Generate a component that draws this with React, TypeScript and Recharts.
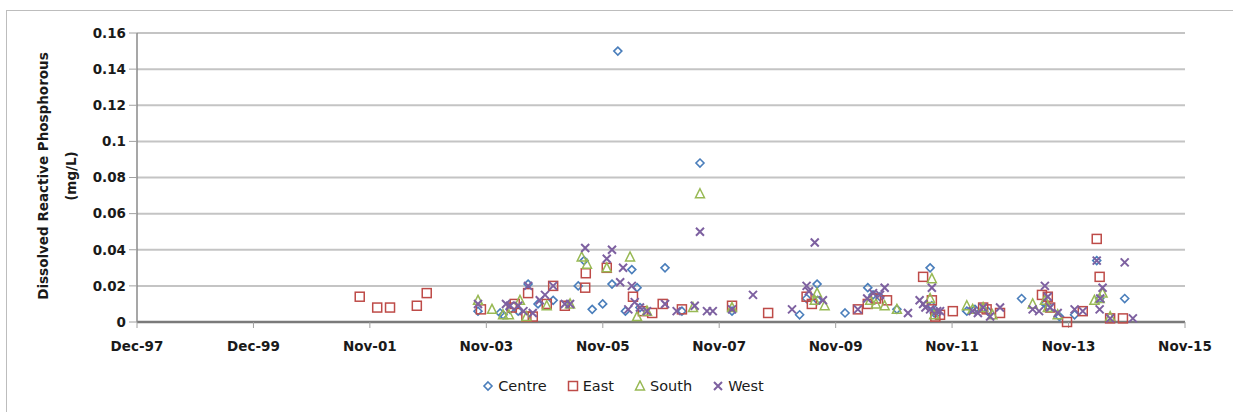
import { CartesianGrid, Scatter, ScatterChart, XAxis, YAxis } from 'recharts';

// x = decimal year, y = mg/L
const X_TICKS = [1997.917, 1999.916, 2001.914, 2003.913, 2005.912, 2007.91, 2009.909, 2011.907, 2013.906, 2015.905];
const X_LABELS = ['Dec-97', 'Dec-99', 'Nov-01', 'Nov-03', 'Nov-05', 'Nov-07', 'Nov-09', 'Nov-11', 'Nov-13', 'Nov-15'];
const Y_TICKS = [0, 0.02, 0.04, 0.06, 0.08, 0.1, 0.12, 0.14, 0.16];

const CENTRE: [number, number][] = [
  [2003.77, 0.006], [2004.15, 0.005], [2004.2, 0.004], [2004.32, 0.007], [2004.46, 0.006],
  [2004.63, 0.021], [2004.8, 0.01], [2005.06, 0.012], [2005.49, 0.02], [2005.59, 0.034],
  [2005.73, 0.007], [2005.91, 0.01], [2006.07, 0.021], [2006.17, 0.15], [2006.3, 0.006],
  [2006.41, 0.029], [2006.5, 0.019], [2006.55, 0.008], [2006.98, 0.03], [2007.27, 0.006],
  [2007.58, 0.088], [2008.13, 0.006], [2009.29, 0.004], [2009.41, 0.013], [2009.59, 0.021],
  [2009.6, 0.012], [2010.07, 0.005], [2010.46, 0.019], [2010.55, 0.015], [2010.67, 0.014],
  [2010.96, 0.007], [2011.53, 0.03], [2011.56, 0.009], [2011.6, 0.005], [2011.65, 0.005],
  [2012.16, 0.006], [2012.3, 0.007], [2012.52, 0.006], [2013.1, 0.013], [2013.5, 0.01],
  [2013.55, 0.009], [2013.75, 0.003], [2014.01, 0.004], [2014.39, 0.034], [2014.44, 0.013],
  [2014.87, 0.013],
];

const EAST: [number, number][] = [
  [2001.74, 0.014], [2002.04, 0.008], [2002.26, 0.008], [2002.72, 0.009], [2002.89, 0.016],
  [2003.82, 0.007], [2004.35, 0.008], [2004.4, 0.01], [2004.6, 0.003], [2004.63, 0.016],
  [2004.71, 0.003], [2004.95, 0.01], [2005.06, 0.02], [2005.26, 0.009], [2005.61, 0.019],
  [2005.62, 0.027], [2005.98, 0.03], [2006.43, 0.014], [2006.6, 0.006], [2006.76, 0.005],
  [2006.94, 0.01], [2007.27, 0.007], [2008.13, 0.009], [2008.75, 0.005], [2009.41, 0.014],
  [2009.5, 0.01], [2010.29, 0.007], [2010.46, 0.01], [2010.6, 0.013], [2010.79, 0.012],
  [2011.41, 0.025], [2011.56, 0.012], [2011.62, 0.003], [2011.7, 0.004], [2011.92, 0.006],
  [2012.44, 0.008], [2012.5, 0.007], [2012.73, 0.005], [2013.45, 0.015], [2013.55, 0.014],
  [2013.59, 0.008], [2013.88, 0.0], [2014.15, 0.006], [2014.39, 0.046], [2014.44, 0.025],
  [2014.62, 0.002], [2014.84, 0.002],
];

const SOUTH: [number, number][] = [
  [2003.77, 0.012], [2004.01, 0.007], [2004.2, 0.004], [2004.3, 0.004], [2004.49, 0.012],
  [2004.6, 0.003], [2004.95, 0.009], [2005.35, 0.01], [2005.55, 0.036], [2005.64, 0.032],
  [2005.98, 0.03], [2006.38, 0.036], [2006.5, 0.003], [2006.67, 0.006], [2007.46, 0.008],
  [2007.58, 0.071], [2008.13, 0.008], [2009.55, 0.012], [2009.59, 0.016], [2009.72, 0.009],
  [2010.5, 0.012], [2010.6, 0.01], [2010.75, 0.009], [2010.96, 0.007], [2011.53, 0.013],
  [2011.56, 0.024], [2011.6, 0.004], [2012.16, 0.009], [2012.26, 0.007], [2012.44, 0.008],
  [2012.6, 0.004], [2013.29, 0.01], [2013.5, 0.012], [2013.55, 0.008], [2013.72, 0.004],
  [2014.35, 0.012], [2014.44, 0.013], [2014.49, 0.016], [2014.62, 0.003],
];

const WEST: [number, number][] = [
  [2003.77, 0.01], [2004.25, 0.01], [2004.32, 0.009], [2004.46, 0.009], [2004.55, 0.006],
  [2004.63, 0.02], [2004.71, 0.005], [2004.83, 0.012], [2004.92, 0.015], [2005.06, 0.02],
  [2005.26, 0.01], [2005.35, 0.01], [2005.61, 0.041], [2005.98, 0.035], [2006.07, 0.04],
  [2006.21, 0.022], [2006.26, 0.03], [2006.35, 0.007], [2006.41, 0.02], [2006.46, 0.011],
  [2006.55, 0.008], [2006.67, 0.006], [2006.98, 0.01], [2007.18, 0.006], [2007.49, 0.009],
  [2007.58, 0.05], [2007.7, 0.006], [2007.8, 0.006], [2008.13, 0.007], [2008.49, 0.015],
  [2009.16, 0.007], [2009.41, 0.02], [2009.45, 0.017], [2009.55, 0.044], [2009.69, 0.012],
  [2010.29, 0.007], [2010.45, 0.013], [2010.55, 0.016], [2010.67, 0.015], [2010.75, 0.019],
  [2011.15, 0.005], [2011.35, 0.012], [2011.41, 0.01], [2011.45, 0.008], [2011.53, 0.007],
  [2011.56, 0.019], [2011.65, 0.006], [2011.7, 0.006], [2012.26, 0.006], [2012.35, 0.005],
  [2012.44, 0.008], [2012.56, 0.003], [2012.73, 0.008], [2013.29, 0.007], [2013.4, 0.006],
  [2013.5, 0.02], [2013.55, 0.014], [2013.59, 0.008], [2013.72, 0.005], [2014.01, 0.007],
  [2014.15, 0.006], [2014.39, 0.034], [2014.44, 0.007], [2014.45, 0.013], [2014.49, 0.019],
  [2014.62, 0.002], [2014.87, 0.033], [2015.01, 0.002],
];

const BLUE = '#4a7ebb';
const RED = '#be4b48';
const GREEN = '#98b954';
const PURPLE = '#7d60a0';
const FONT = '"DejaVu Sans", sans-serif';

const toPoints = (rows: [number, number][]) => rows.map(([x, y]) => ({ x, y }));

const Diamond = ({ cx, cy }: any) => (
  <path d={`M${cx},${cy - 4} L${cx + 4},${cy} L${cx},${cy + 4} L${cx - 4},${cy} Z`} fill="none" stroke={BLUE} strokeWidth={1.6} />
);
const Square = ({ cx, cy }: any) => (
  <rect x={cx - 4.5} y={cy - 4.5} width={9} height={9} fill="none" stroke={RED} strokeWidth={1.5} />
);
const Triangle = ({ cx, cy }: any) => (
  <path d={`M${cx},${cy - 5} L${cx + 4.5},${cy + 4} L${cx - 4.5},${cy + 4} Z`} fill="none" stroke={GREEN} strokeWidth={1.5} />
);
const Cross = ({ cx, cy }: any) => (
  <path d={`M${cx - 4},${cy - 4} L${cx + 4},${cy + 4} M${cx + 4},${cy - 4} L${cx - 4},${cy + 4}`} stroke={PURPLE} strokeWidth={2} />
);

const LEGEND = [
  { name: 'Centre', Shape: Diamond },
  { name: 'East', Shape: Square },
  { name: 'South', Shape: Triangle },
  { name: 'West', Shape: Cross },
];

export default function App() {
  return (
    <div style={{ position: 'absolute', left: 0, top: 0, width: 1233, height: 412, overflow: 'hidden', background: '#fff', fontFamily: FONT }}>
      <div style={{ position: 'absolute', left: 6, top: 10, width: 1260, height: 440, border: '1px solid #bdbdbd' }} />
      <div
        style={{
          position: 'absolute', left: 57, top: 176, width: 300, transform: 'translate(-50%, -50%) rotate(-90deg)',
          textAlign: 'center', fontSize: 13.5, fontWeight: 'bold', lineHeight: '28px', color: '#1a1a1a',
        }}
      >
        Dissolved Reactive Phosphorous
        <br />
        (mg/L)
      </div>
      <ScatterChart width={1233} height={412} margin={{ top: 33, right: 48, bottom: 0, left: 0 }} style={{ position: 'absolute', left: 0, top: 0 }}>
        <CartesianGrid horizontal vertical={false} stroke="#c4c4c4" strokeWidth={2} />
        <XAxis
          type="number"
          dataKey="x"
          domain={[X_TICKS[0], X_TICKS[X_TICKS.length - 1]]}
          ticks={X_TICKS}
          tickFormatter={(v: number) => X_LABELS[X_TICKS.indexOf(v)] ?? ''}
          height={90}
          tickSize={6}
          tickMargin={13}
          axisLine={{ stroke: '#7a7a7a', strokeWidth: 2.5 }}
          tickLine={{ stroke: '#a0a0a0' }}
          tick={{ fill: '#1a1a1a', fontSize: 13.5, fontWeight: 'bold', fontFamily: FONT }}
          interval={0}
        />
        <YAxis
          type="number"
          dataKey="y"
          domain={[0, 0.16]}
          ticks={Y_TICKS}
          width={137}
          tickSize={8}
          tickMargin={3}
          axisLine={{ stroke: '#8a8a8a', strokeWidth: 1.5 }}
          tickLine={{ stroke: '#a0a0a0' }}
          tick={{ fill: '#1a1a1a', fontSize: 13.5, fontWeight: 'bold', fontFamily: FONT }}
          interval={0}
        />
        <Scatter name="Centre" data={toPoints(CENTRE)} shape={Diamond} isAnimationActive={false} />
        <Scatter name="East" data={toPoints(EAST)} shape={Square} isAnimationActive={false} />
        <Scatter name="South" data={toPoints(SOUTH)} shape={Triangle} isAnimationActive={false} />
        <Scatter name="West" data={toPoints(WEST)} shape={Cross} isAnimationActive={false} />
      </ScatterChart>
      <div
        style={{
          position: 'absolute', left: 0, top: 378, width: 1246, display: 'flex', justifyContent: 'center',
          alignItems: 'center', gap: 20, fontSize: 14.5, color: '#1a1a1a',
        }}
      >
        {LEGEND.map(({ name, Shape }) => (
          <div key={name} style={{ display: 'flex', alignItems: 'center', gap: 4 }}>
            <svg width={12} height={12}>
              <Shape cx={6} cy={6} />
            </svg>
            <span>{name}</span>
          </div>
        ))}
      </div>
    </div>
  );
}
